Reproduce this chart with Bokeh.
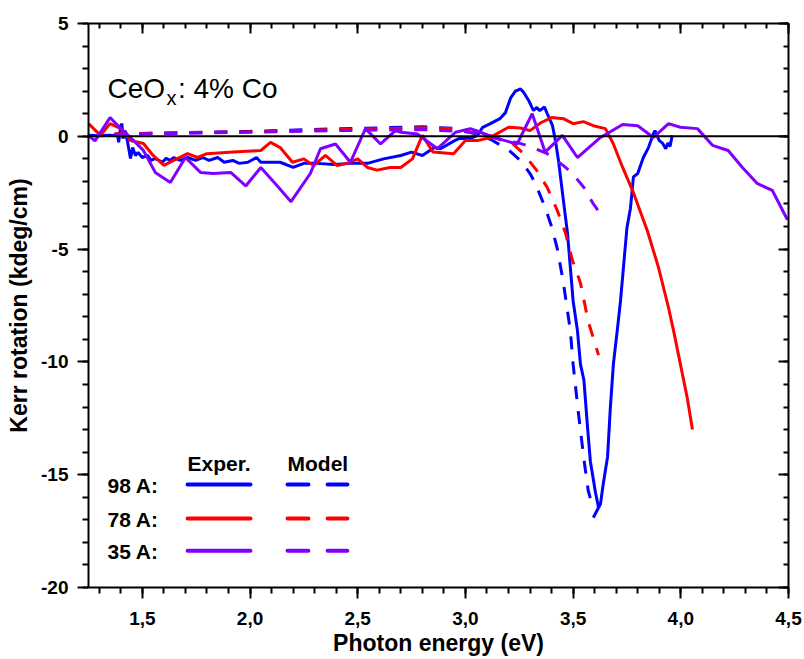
import numpy as np
from bokeh.plotting import figure
from bokeh.models import Range1d, LinearAxis, FixedTicker, CustomJSTickFormatter, Span, Label, Title
from bokeh.embed import file_html
from bokeh.resources import INLINE
from bokeh.core.properties import value

# ---------------- data ----------------
exp98_x = [1.25, 1.30, 1.34, 1.385, 1.39, 1.40, 1.405, 1.41, 1.42, 1.43, 1.445, 1.455, 1.468, 1.48,
           1.50, 1.524, 1.54, 1.56, 1.593, 1.61, 1.63, 1.645, 1.677, 1.71, 1.747, 1.78, 1.81, 1.85,
           1.88, 1.92, 1.95, 1.99, 2.03, 2.05, 2.095, 2.14, 2.2, 2.25, 2.31, 2.39, 2.466, 2.545,
           2.62, 2.70, 2.75, 2.80, 2.856, 2.884, 2.95, 2.97, 3.02, 3.056, 3.08, 3.116, 3.16, 3.186,
           3.21, 3.232, 3.256, 3.27, 3.293, 3.316, 3.33, 3.345, 3.367, 3.38, 3.404, 3.418, 3.432,
           3.455, 3.474, 3.487, 3.50, 3.52, 3.534, 3.55, 3.567, 3.58, 3.604, 3.618, 3.594, 3.627,
           3.64, 3.66, 3.673, 3.687, 3.705, 3.72, 3.75, 3.766, 3.78, 3.80, 3.826, 3.85, 3.873,
           3.88, 3.90, 3.915, 3.93, 3.94, 3.95, 3.96]
exp98_y = [0.05, 0.02, 0.05, 0.04, -0.27, 0.48, 0.56, -0.1, 0.25, -0.19, -0.98, -0.5, -0.85, -0.72,
           -0.94, -0.85, -1.07, -0.98, -1.15, -0.98, -1.07, -0.94, -1.07, -0.94, -1.07, -0.94, -1.07, -0.94,
           -1.15, -1.07, -1.2, -1.15, -0.94, -1.15, -1.15, -1.15, -1.38, -1.2, -1.2, -1.25, -1.2, -1.2,
           -1.0, -0.85, -0.7, -0.85, -0.5, -0.55, -0.19, -0.1, -0.1, 0.04, 0.4, 0.56, 0.78, 1.05,
           1.7, 2.0, 2.1, 1.95, 1.6, 1.14, 1.28, 1.14, 1.3, 1.0, 0.48, -0.19, -1.07,
           -2.85, -4.3, -5.8, -7.3, -8.6, -10.1, -10.8, -12.9, -14.4, -15.8, -16.45, -16.9, -16.3,
           -15.4, -14.2, -12.0, -10.1, -8.6, -7.3, -4.05, -3.2, -1.8, -1.65, -0.94, -0.5, 0.12,
           0.25, -0.19, -0.3, -0.55, -0.3, -0.45, 0.04]

exp78_x = [1.25, 1.306, 1.35, 1.40, 1.445, 1.505, 1.55, 1.60, 1.645, 1.71, 1.756, 1.80, 1.923,
           2.05, 2.095, 2.14, 2.197, 2.25, 2.295, 2.35, 2.405, 2.45, 2.50, 2.545, 2.59, 2.65, 2.70,
           2.754, 2.80, 2.85, 2.945, 3.0, 3.056, 3.116, 3.2, 3.255, 3.30, 3.35, 3.40, 3.455, 3.50,
           3.548, 3.594, 3.65, 3.687, 3.73, 3.78, 3.845, 3.896, 3.943, 3.966, 3.998, 4.03, 4.054]
exp78_y = [0.56, 0.04, 0.56, 0.34, -0.19, -0.32, -0.85, -1.29, -1.07, -0.77, -0.94, -0.77, -0.7,
           -0.63, -0.27, -0.5, -1.15, -1.0, -1.3, -0.85, -1.3, -1.2, -1.0, -1.38, -1.5, -1.38, -1.38,
           -1.0, 0.04, -0.7, -0.77, -0.19, -0.19, -0.05, 0.4, 0.37, 0.25, 0.6, 0.83, 0.78, 0.56,
           0.65, 0.47, 0.34, -0.34, -1.38, -2.5, -4.2, -5.8, -7.6, -8.6, -10.1, -11.6, -13.0]

exp35_x = [1.25, 1.28, 1.35, 1.40, 1.46, 1.505, 1.56, 1.63, 1.70, 1.77, 1.83, 1.91, 1.98, 2.05,
           2.127, 2.19, 2.28, 2.327, 2.397, 2.466, 2.536, 2.606, 2.675, 2.70, 2.777, 2.87, 2.954,
           3.023, 3.07, 3.13, 3.24, 3.31, 3.37, 3.45, 3.52, 3.627, 3.73, 3.80, 3.873, 3.943, 3.998,
           4.077, 4.147, 4.22, 4.286, 4.356, 4.425, 4.495]
exp35_y = [0.04, -0.2, 0.83, 0.34, -0.19, -0.63, -1.6, -2.05, -0.94, -1.6, -1.65, -1.6, -2.2, -1.38,
           -2.2, -2.9, -1.65, -0.55, -0.34, -1.15, 0.34, -0.34, 0.25, 0.18, 0.1, -0.55, 0.18,
           0.34, 0.18, -0.05, -0.34, 1.0, -0.7, 0.04, -0.94, -0.05, 0.52, 0.47, -0.05, 0.56, 0.4,
           0.34, -0.4, -0.63, -1.38, -2.1, -2.4, -3.7]

mod98_x = [1.37, 1.6, 2.0, 2.4, 2.8, 2.95, 3.05, 3.12, 3.2, 3.255, 3.30, 3.325, 3.37, 3.40, 3.427,
           3.455, 3.487, 3.50, 3.525, 3.55, 3.57, 3.59]
mod98_y = [0.1, 0.15, 0.22, 0.33, 0.42, 0.35, 0.1, -0.15, -0.6, -1.07, -1.65, -2.1, -3.15, -4.0, -5.0,
           -6.5, -8.6, -10.1, -12.3, -14.3, -15.7, -16.4]

mod78_x = [1.37, 1.6, 2.0, 2.4, 2.8, 2.95, 3.05, 3.13, 3.22, 3.27, 3.33, 3.38, 3.427, 3.465, 3.497,
           3.534, 3.57, 3.618]
mod78_y = [0.1, 0.15, 0.2, 0.3, 0.38, 0.33, 0.15, 0.0, -0.34, -0.77, -1.5, -2.27, -3.3, -4.3, -5.5,
           -6.5, -8.2, -9.7]

mod35_x = [1.37, 1.6, 2.0, 2.4, 2.8, 3.0, 3.1, 3.16, 3.25, 3.30, 3.38, 3.455, 3.497, 3.55, 3.594, 3.64]
mod35_y = [0.08, 0.12, 0.18, 0.25, 0.3, 0.2, 0.05, -0.15, -0.3, -0.45, -0.77, -1.3, -1.65, -2.27, -3.0, -3.6]

x_ticks = [1.5, 2.0, 2.5, 3.0, 3.5, 4.0, 4.5]
y_ticks = [-20, -15, -10, -5, 0, 5]
legend_rows = ["98 A:", "78 A:", "35 A:"]
colors = ["#0000ff", "#ff0000", "#8000ff"]

FONT = "Liberation Sans"
X0, X1, Y0, Y1 = 1.25, 4.5, -20, 5

# ---------------- figure ----------------
p = figure(width=804, height=659, output_backend="svg", toolbar_location=None,
           x_range=Range1d(X0, X1), y_range=Range1d(Y0, Y1),
           min_border_left=88, min_border_right=16, min_border_top=23, min_border_bottom=72,
           y_axis_label="Kerr rotation (kdeg/cm)")
p.grid.visible = False
p.outline_line_color = None
p.background_fill_color = "white"
p.border_fill_color = "white"

xt = FixedTicker(ticks=x_ticks, minor_ticks=list(np.round(np.arange(1.3, 4.51, 0.1), 2)))
yt = FixedTicker(ticks=y_ticks, minor_ticks=list(range(-20, 6)))
fmt_x = CustomJSTickFormatter(code="return tick.toFixed(1).replace('.', ',');")
fmt_y = CustomJSTickFormatter(code="return tick.toFixed(0);")


def style_axis(ax, outward, show_labels):
    ax.axis_line_width = 2
    ax.axis_line_color = "black"
    ax.major_tick_line_width = 2
    ax.minor_tick_line_width = 2
    ax.major_tick_line_color = "black"
    ax.minor_tick_line_color = "black"
    if outward:
        ax.major_tick_out = 11
        ax.major_tick_in = 0
        ax.minor_tick_out = 6
        ax.minor_tick_in = 0
    else:
        ax.major_tick_out = 0
        ax.major_tick_in = 10
        ax.minor_tick_out = 0
        ax.minor_tick_in = 5
    if show_labels:
        ax.major_label_text_font = FONT
        ax.major_label_text_font_style = "bold"
        ax.major_label_text_font_size = "19px"
        ax.major_label_text_color = "black"
        ax.axis_label_text_font = FONT
        ax.axis_label_text_font_style = "bold"
        ax.axis_label_text_font_size = "23px"
        ax.axis_label_text_color = "black"
    else:
        ax.major_label_text_font_size = "1px"
        ax.major_label_text_color = None
        ax.major_label_standoff = 0


xa = p.xaxis[0]
xa.ticker = xt
xa.formatter = fmt_x
style_axis(xa, True, True)
xa.major_label_standoff = 13

ya = p.yaxis[0]
ya.ticker = yt
ya.formatter = fmt_y
style_axis(ya, True, True)
ya.major_label_standoff = 9
ya.axis_label_standoff = 6

top = LinearAxis(ticker=xt)
style_axis(top, False, False)
p.add_layout(top, "above")
right = LinearAxis(ticker=yt)
style_axis(right, False, False)
p.add_layout(right, "right")

# x-axis title as a bottom panel title, centred on the frame
p.add_layout(Title(text="Photon energy (eV)", align="center", standoff=0,
                   text_font=FONT, text_font_size="23px", text_font_style="bold",
                   text_color="black"), "below")

# zero line
p.add_layout(Span(location=0, dimension="width", line_color="black", line_width=2))

# data curves
p.line(exp98_x, exp98_y, line_color=colors[0], line_width=3)
p.line(mod98_x, mod98_y, line_color=colors[0], line_width=3, line_dash="13 12")
p.line(exp78_x, exp78_y, line_color=colors[1], line_width=3)
p.line(mod78_x, mod78_y, line_color=colors[1], line_width=3, line_dash="13 12")
p.line(exp35_x, exp35_y, line_color=colors[2], line_width=3)
p.line(mod35_x, mod35_y, line_color=colors[2], line_width=3, line_dash="13 12")

# title annotation
p.add_layout(Label(x=1.338, y=2.12, text="CeO", text_font=FONT, text_font_size="28px",
                   text_color="black", text_baseline="alphabetic"))
p.add_layout(Label(x=1.612, y=1.70, text="x", text_font=FONT, text_font_size="20px",
                   text_color="black", text_baseline="alphabetic"))
p.add_layout(Label(x=1.665, y=2.12, text=": 4% Co", text_font=FONT, text_font_size="28px",
                   text_color="black", text_baseline="alphabetic"))

# manual legend
p.text(x=[1.710, 2.174], y=[-14.50, -14.50], text=["Exper.", "Model"],
       text_font=value(FONT), text_font_style="bold", text_font_size="21px",
       text_color="black", text_baseline="alphabetic")
row_y = [-15.43, -16.94, -18.37]
p.text(x=[1.338] * 3, y=[v - 0.05 for v in row_y], text=legend_rows,
       text_font=value(FONT), text_font_style="bold", text_font_size="21px",
       text_color="black", text_baseline="middle")
for c, yy in zip(colors, row_y):
    p.segment(x0=[1.710], y0=[yy], x1=[2.002], y1=[yy], line_color=c, line_width=4, line_cap="round")
    p.segment(x0=[2.174, 2.360], y0=[yy, yy], x1=[2.271, 2.452], y1=[yy, yy],
              line_color=c, line_width=4, line_cap="round")

open("out.html", "w").write(file_html(p, INLINE))
